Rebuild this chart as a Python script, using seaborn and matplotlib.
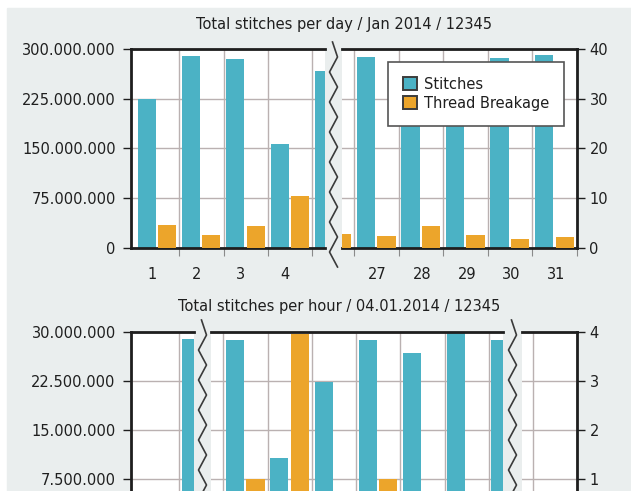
import numpy as np
import pandas as pd
import matplotlib
matplotlib.use("Agg")
import matplotlib.pyplot as plt
import seaborn as sns
from matplotlib.lines import Line2D
from matplotlib.patches import Rectangle, Patch

# ---------------- data ----------------
top_title = "Total stitches per day / Jan 2014 / 12345"
bottom_title = "Total stitches per hour / 04.01.2014 / 12345"
series_names = ["Stitches", "Thread Breakage"]

days = [1, 2, 3, 4, 5, 26, 27, 28, 29, 30, 31]
day_stitches = [224e6, 289e6, 285e6, 156e6, 267e6, 280e6, 287.5e6, 255e6, 250e6, 286.5e6, 291e6]
day_breakage = [4.6, 2.65, 4.45, 10.4, 3.0, 2.85, 2.45, 4.4, 2.6, 1.7, 2.1]
day_labels_left = [1, 2, 3, 4]
day_labels_right = [27, 28, 29, 30, 31]

hours = [0, 1, 6, 7, 8, 9, 10, 11, 12, 13, 22, 23]
hour_stitches = [0, 29.0e6, 0, 28.7e6, 10.7e6, 22.4e6, 28.85e6, 26.8e6, 29.9e6, 28.8e6, 0, 0]
hour_breakage = [0, 0, 0, 1.0, 3.95, 0, 1.0, 0, 0, 0, 0, 0]

day_ylim_left, day_ylim_right = (0, 300e6), (0, 40)
day_yticks_left = [0, 75e6, 150e6, 225e6, 300e6]
day_yticks_right = [0, 10, 20, 30, 40]
hour_ylim_left, hour_ylim_right = (0, 30e6), (0, 4)
hour_yticks_left = [7.5e6, 15e6, 22.5e6, 30e6]
hour_yticks_right = [1, 2, 3, 4]

# ---------------- style ----------------
W, H = 631, 491
BG = "#eaeeee"
CYAN = "#4bb2c5"
ORANGE = "#eca52b"
GRID = "#bab1b1"
SPINE = "#1e1e1e"
TXT = "#1f1f1f"
FS = 10.5
CY_OFF, OR_OFF, BW = -0.235, 0.225, 0.41

plt.rcParams["font.family"] = ["DejaVu Sans"]

fig = plt.figure(figsize=(W / 100, H / 100), dpi=100, facecolor="white")
fig.patches.append(Rectangle((7 / W, 0), 1 - 7 / W, 1 - 8 / H,
                             transform=fig.transFigure, color=BG, zorder=-10))


def px_axes(x0, x1, y0, y1):
    return fig.add_axes([x0 / W, 1 - y1 / H, (x1 - x0) / W, (y1 - y0) / H])


def dotted(v):
    return f"{v:,.0f}".replace(",", ".")


def panel_part(rect, xs, s, b, xlim, ylim1, yt1, ylim2, yt2, show_left,
               show_right, label_pos, label_off):
    ax = px_axes(*rect)
    ax.set_facecolor("white")
    ax2 = ax.twinx()
    df = pd.DataFrame({"x": xs, "s": s, "b": b})
    sns.barplot(x=df["x"] + CY_OFF, y=df["s"], native_scale=True, orient="x",
                width=BW, color=CYAN, saturation=1, errorbar=None,
                linewidth=0, ax=ax)
    sns.barplot(x=df["x"] + OR_OFF, y=df["b"], native_scale=True, orient="x",
                width=BW, color=ORANGE, saturation=1, errorbar=None,
                linewidth=0, ax=ax2)
    for a in (ax, ax2):
        a.set_xlabel("")
        a.set_ylabel("")
    ax.set_ylim(*ylim1)
    ax2.set_ylim(*ylim2)
    ax.set_yticks(yt1)
    ax.set_yticklabels([dotted(v) for v in yt1])
    ax2.set_yticks(yt2)
    ax2.set_yticklabels([str(v) for v in yt2])
    ax.tick_params(axis="y", left=show_left, labelleft=show_left, right=False,
                   labelright=False, length=6, width=1, color=SPINE, pad=5,
                   labelsize=FS, labelcolor=TXT)
    ax2.tick_params(axis="y", left=False, labelleft=False, right=show_right,
                    labelright=show_right, length=6, width=1, color=SPINE,
                    pad=3, labelsize=FS, labelcolor=TXT)
    ax.set_xticks([p + label_off for p in label_pos])
    ax.set_xticklabels([str(p) for p in label_pos])
    ax.set_xticks([p + 0.5 for p in xs], minor=True)
    ax.tick_params(axis="x", which="major", length=0, pad=14, labelsize=FS,
                   labelcolor=TXT)
    ax.tick_params(axis="x", which="minor", length=6, width=0.8,
                   color="#8a8a8a")
    ax.grid(True, axis="y", which="major", color=GRID, lw=1)
    ax.grid(True, axis="x", which="minor", color=GRID, lw=1)
    ax.set_axisbelow(True)
    for name, sp in ax.spines.items():
        sp.set_color(SPINE)
        sp.set_linewidth(2)
    ax.spines["left"].set_visible(show_left)
    ax.spines["right"].set_visible(False)
    for name, sp in ax2.spines.items():
        sp.set_visible(name == "right" and show_right)
        sp.set_color(SPINE)
        sp.set_linewidth(2)
    ax.set_xlim(*xlim)
    return ax, ax2


# ---------------- top panel ----------------
TY0, TY1 = 49, 247.7
panel_part((131, 325, TY0, TY1), days, day_stitches, day_breakage,
           (0.41, 4.79), day_ylim_left, day_yticks_left, day_ylim_right,
           day_yticks_right, True, False, day_labels_left, -0.12)
panel_part((342, 577, TY0, TY1), days, day_stitches, day_breakage,
           (26.23, 31.5), day_ylim_left, day_yticks_left, day_ylim_right,
           day_yticks_right, False, True, day_labels_right, 0.03)

# ---------------- bottom panel (cut off by the image edge) ----------------
BY0, BY1 = 332, 528
for rect, xlim, sl, sr in [((131, 194, BY0, BY1), (-0.59, 0.84), True, False),
                           ((211, 503, BY0, BY1), (6.22, 12.82), False, False),
                           ((522, 577, BY0, BY1), (22.26, 23.5), False, True)]:
    panel_part(rect, hours, hour_stitches, hour_breakage, xlim,
               hour_ylim_left, hour_yticks_left, hour_ylim_right,
               hour_yticks_right, sl, sr, [], 0.0)

# ---------------- titles ----------------
fig.text(343.5 / W, 1 - 25 / H, top_title, ha="center", va="center",
         fontsize=FS, color=TXT)
fig.text(339.5 / W, 1 - 307 / H, bottom_title, ha="center", va="center",
         fontsize=FS, color=TXT)


# ---------------- axis-break wavy lines ----------------
def break_line(xc, y_top, y_bot, amp=4.0, step=15):
    ys = np.arange(y_top, y_bot + step, step, dtype=float)
    xs = xc + amp * np.where(np.arange(len(ys)) % 2 == 0, -1.0, 1.0)
    xs[0] = xc - 1
    fig.add_artist(Line2D(xs / W, 1 - ys / H, transform=fig.transFigure,
                          color="#3a3a3a", lw=1.2, solid_joinstyle="round",
                          zorder=6))


break_line(333.5, 42, 262)
break_line(202.5, 320, 505)
break_line(512.5, 320, 505)

# ---------------- legend ----------------
handles = [Patch(facecolor=CYAN, edgecolor="#3c3c3c", lw=1.4),
           Patch(facecolor=ORANGE, edgecolor="#3c3c3c", lw=1.4)]
leg = fig.legend(handles, series_names, loc="upper left",
                 bbox_to_anchor=(388 / W, 1 - 62 / H),
                 bbox_transform=fig.transFigure, frameon=True, fancybox=False,
                 edgecolor="#555555", framealpha=1, borderpad=1.0,
                 handlelength=1.0, handleheight=1.0, handletextpad=0.5,
                 labelspacing=0.3, borderaxespad=0, fontsize=FS)
leg.get_frame().set_linewidth(1.2)
for t in leg.get_texts():
    t.set_color(TXT)

fig.savefig("out.png", dpi=100, facecolor=fig.get_facecolor())
